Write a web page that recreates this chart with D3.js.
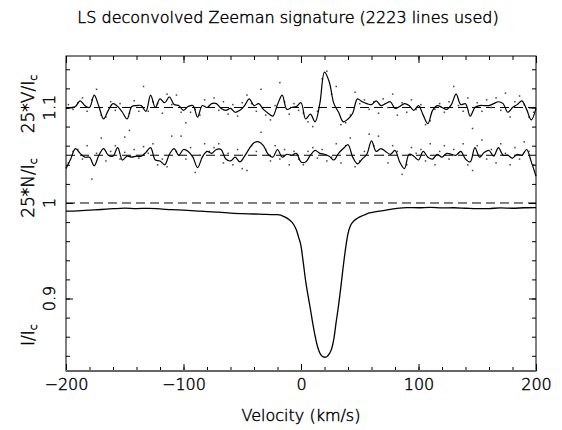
<!DOCTYPE html>
<html><head><meta charset="utf-8">
<script src="https://cdn.jsdelivr.net/npm/d3@7"></script>
<style>
body{margin:0;background:#fff}
svg{display:block}
text{font-family:"DejaVu Sans ExtraLight","DejaVu Sans",sans-serif;font-weight:200;fill:#000;stroke:#000;stroke-width:0.45px}
</style>
</head><body><svg id="c" width="562" height="430"></svg>
<script>
// ---- data ----
const velocity = [
 -200,-196,-192,-188,-184,-180,-176,-172,-168,-164,
 -160,-156,-152,-148,-144,-140,-136,-132,-128,-124,
 -120,-116,-112,-108,-104,-100,-96,-92,-88,-84,
 -80,-76,-72,-68,-64,-60,-56,-52,-48,-44,
 -40,-36,-32,-28,-24,-20,-16,-12,-8,-4,
 0,4,8,12,16,20,24,28,32,36,
 40,44,48,52,56,60,64,68,72,76,
 80,84,88,92,96,100,104,108,112,116,
 120,124,128,132,136,140,144,148,152,156,
 160,164,168,172,176,180,184,188,192,196,
 200];
// 25*V/Ic (plotted around 1.1)
const stokesV = [
 -0.001,0.000,0.001,0.007,0.002,0.000,0.013,0.001,-0.012,-0.003,
 0.004,0.001,-0.005,-0.012,0.001,0.002,0.002,-0.004,0.013,0.000,
 0.009,0.005,0.011,0.003,0.002,-0.003,0.001,0.002,-0.010,0.002,
 0.000,0.004,0.004,-0.001,-0.003,-0.001,-0.005,-0.003,0.002,0.009,
 0.002,0.004,-0.002,-0.006,-0.009,0.003,0.013,-0.002,0.000,0.001,
 0.005,-0.012,-0.007,-0.015,0.004,0.037,0.027,0.004,-0.005,-0.015,
 -0.012,-0.006,0.009,0.006,0.004,0.003,0.007,0.002,0.004,0.006,
 -0.001,0.001,0.004,0.002,-0.003,0.002,-0.008,-0.017,-0.003,0.002,
 0.000,-0.002,0.003,0.014,0.003,0.004,-0.009,0.000,0.002,0.002,
 0.002,0.004,0.006,0.004,-0.005,0.000,0.003,0.007,-0.002,-0.013,
 -0.001];
// 25*N/Ic (plotted around 1.05)
const nullN = [
 -0.014,-0.004,0.007,0.002,-0.002,-0.002,-0.011,0.000,0.007,0.000,
 -0.001,0.008,-0.005,-0.001,-0.002,-0.001,-0.001,0.003,0.008,-0.005,
 -0.006,-0.010,0.001,0.007,0.000,0.006,0.004,-0.002,-0.013,-0.002,
 0.004,0.002,0.006,0.006,-0.004,-0.006,-0.002,-0.007,-0.001,0.007,
 0.013,0.014,0.010,0.001,-0.002,0.006,-0.002,0.001,0.000,0.002,
 -0.007,-0.007,0.000,0.005,0.002,0.001,-0.001,-0.005,0.002,0.007,
 0.011,-0.002,-0.009,-0.004,0.001,0.015,0.004,0.007,0.004,0.001,
 0.005,-0.007,-0.014,0.001,-0.001,-0.005,0.004,-0.002,-0.004,0.001,
 -0.002,0.002,0.001,0.000,0.004,-0.004,-0.007,0.008,-0.002,0.003,
 0.005,-0.001,0.008,0.000,0.000,-0.003,0.001,0.000,0.006,-0.007,
 -0.022];
const dotVelocity = [
 -198,-194,-190,-186,-182,-178,-174,-170,-166,-162,
 -158,-154,-150,-146,-142,-138,-134,-130,-126,-122,
 -118,-114,-110,-106,-102,-98,-94,-90,-86,-82,
 -78,-74,-70,-66,-62,-58,-54,-50,-46,-42,
 -38,-34,-30,-26,-22,-18,-14,-10,-6,-2,
 2,6,10,14,18,22,26,30,34,38,
 42,46,50,54,58,62,66,70,74,78,
 82,86,90,94,98,102,106,110,114,118,
 122,126,130,134,138,142,146,150,154,158,
 162,166,170,174,178,182,186,190,194,198];
const dotV = [
 0.003,-0.002,0.005,0.010,-0.004,0.008,0.019,-0.008,-0.010,0.006,
 -0.003,0.004,-0.031,-0.006,0.007,-0.004,0.022,-0.004,0.006,0.004,
 -0.006,0.014,0.003,0.013,-0.005,-0.016,-0.005,-0.002,-0.008,0.008,
 0.002,0.010,-0.003,0.006,-0.007,0.003,-0.009,0.005,0.013,0.004,
 -0.004,0.019,-0.008,-0.013,0.002,0.026,0.006,-0.007,0.004,-0.003,
 -0.006,-0.015,-0.020,-0.004,0.030,0.038,0.014,0.022,-0.018,-0.016,
 -0.008,0.016,0.004,0.008,-0.002,0.006,-0.006,0.009,0.000,0.014,
 -0.008,0.005,-0.005,0.008,-0.002,0.003,-0.018,-0.014,-0.002,0.004,
 -0.005,0.006,0.022,0.002,-0.004,0.010,-0.022,0.005,-0.004,0.008,
 0.000,0.010,-0.003,0.015,-0.010,0.006,0.012,0.003,-0.010,-0.005];
const dotN = [
 -0.008,0.004,0.006,-0.004,0.010,-0.025,0.002,0.018,-0.006,0.004,
 0.010,-0.004,0.003,0.026,0.006,-0.003,0.009,0.002,0.012,-0.010,
 -0.004,-0.012,0.020,0.004,0.020,-0.004,0.008,-0.018,0.000,0.012,
 0.004,0.008,0.012,-0.008,0.002,-0.010,0.006,-0.014,-0.016,0.010,
 0.004,0.024,0.006,-0.006,0.010,-0.004,0.006,-0.010,0.004,-0.004,
 -0.010,0.004,0.008,-0.003,0.006,-0.006,-0.002,0.012,-0.008,0.010,
 0.018,-0.012,-0.006,0.004,0.022,0.010,0.020,0.000,-0.008,0.010,
 0.004,-0.020,-0.010,0.008,0.002,0.006,-0.006,0.012,-0.010,0.004,
 0.010,-0.004,0.006,0.002,0.012,-0.010,-0.016,0.010,0.016,-0.004,
 0.006,-0.008,0.012,0.002,-0.010,0.008,-0.004,0.014,0.004,-0.010];
const intensityVel = [
 -200,-190,-180,-170,-160,-150,-140,-130,-120,-110,
 -100,-90,-80,-70,-60,-50,-40,-30,-20,-14,
 -10,-6,-4,-2,0,2,4,6,8,10,
 12,14,16,18,20,22,24,26,28,30,
 32,34,36,38,40,42,44,48,52,56,
 60,70,80,90,100,110,120,130,140,150,
 160,170,180,190,200];
const intensity = [
 0.9914,0.9918,0.9925,0.9932,0.9940,0.9946,0.9942,0.9944,0.9938,0.9930,
 0.9925,0.9918,0.9910,0.9905,0.9893,0.9888,0.9885,0.9880,0.9878,0.9855,
 0.9825,0.9770,0.9720,0.9640,0.9550,0.9370,0.9180,0.9030,0.8890,0.8740,
 0.8610,0.8500,0.8430,0.8395,0.8385,0.8390,0.8420,0.8470,0.8580,0.8760,
 0.8930,0.9130,0.9340,0.9530,0.9680,0.9760,0.9800,0.9840,0.9865,0.9887,
 0.9900,0.9920,0.9940,0.9952,0.9950,0.9955,0.9948,0.9950,0.9945,0.9940,
 0.9942,0.9948,0.9945,0.9950,0.9952];
const xMajorTicks = [-200,-100,0,100,200];
const yMajorTicks = [0.9,1,1.1];
const titleText = "LS deconvolved Zeeman signature (2223 lines used)";
const xLabel = "Velocity (km/s)";
const vOffset = 1.1, nOffset = 1.05, iContinuum = 1.0;

// ---- drawing ----
const svg = d3.select("#c");
const L = 66, R = 536, T = 56, B = 371;
const x = d3.scaleLinear().domain([-200, 200]).range([L, R]);
const y = d3.scaleLinear().domain([0.8241, 1.1539]).range([B, T]);

// title
svg.append("text").attr("x", 288).attr("y", 23).attr("text-anchor", "middle")
  .style("font-size", "16px").text(titleText);

// dashed reference lines
[vOffset, nOffset, iContinuum].forEach(v => {
  svg.append("line").attr("x1", L).attr("x2", R).attr("y1", y(v)).attr("y2", y(v))
    .attr("stroke", "#000").attr("stroke-width", 1).attr("stroke-dasharray", "9,5");
});

// dots
const dotsV = dotVelocity.map((v, i) => [v, vOffset + dotV[i]]);
const dotsN = dotVelocity.map((v, i) => [v, nOffset + dotN[i]]);
svg.append("g").selectAll("rect").data(dotsV.concat(dotsN)).join("rect")
  .attr("x", d => x(d[0]) - 0.75).attr("y", d => y(d[1]) - 0.75)
  .attr("width", 1.5).attr("height", 1.5).attr("fill", "#444");

// lines
const line = d3.line().x(d => x(d[0])).y(d => y(d[1])).curve(d3.curveCatmullRom.alpha(0.5));
const lineI = d3.line().x(d => x(d[0])).y(d => y(d[1])).curve(d3.curveMonotoneX);
svg.append("path").datum(velocity.map((v, i) => [v, vOffset + stokesV[i]]))
  .attr("d", line).attr("fill", "none").attr("stroke", "#000").attr("stroke-width", 1.2);
svg.append("path").datum(velocity.map((v, i) => [v, nOffset + nullN[i]]))
  .attr("d", line).attr("fill", "none").attr("stroke", "#000").attr("stroke-width", 1.2);
svg.append("path").datum(intensityVel.map((v, i) => [v, intensity[i]]))
  .attr("d", lineI).attr("fill", "none").attr("stroke", "#000").attr("stroke-width", 1.3);

// axes (ticks pointing inward)
const xMinor = d3.range(-200, 201, 20);
const yMinor = d3.range(0.84, 1.1501, 0.02);
function noDomain(g) { g.select(".domain").remove(); }
svg.append("g").attr("transform", `translate(0,${B})`)
  .call(d3.axisBottom(x).tickValues(xMinor).tickSize(-4).tickFormat("")).call(noDomain);
svg.append("g").attr("transform", `translate(0,${B})`)
  .call(d3.axisBottom(x).tickValues(xMajorTicks).tickSize(-7).tickPadding(8).tickFormat(d3.format("d")))
  .call(noDomain)
  .call(g => g.selectAll("text").style("font-size", "16px").attr("font-family", null));
svg.append("g").attr("transform", `translate(0,${T})`)
  .call(d3.axisTop(x).tickValues(xMinor).tickSize(-4).tickFormat("")).call(noDomain);
svg.append("g").attr("transform", `translate(0,${T})`)
  .call(d3.axisTop(x).tickValues(xMajorTicks).tickSize(-7).tickFormat("")).call(noDomain);
svg.append("g").attr("transform", `translate(${L},0)`)
  .call(d3.axisLeft(y).tickValues(yMinor).tickSize(-4).tickFormat("")).call(noDomain);
svg.append("g").attr("transform", `translate(${L},0)`)
  .call(d3.axisLeft(y).tickValues(yMajorTicks).tickSize(-7).tickFormat("")).call(noDomain);
svg.append("g").attr("transform", `translate(${R},0)`)
  .call(d3.axisRight(y).tickValues(yMinor).tickSize(-4).tickFormat("")).call(noDomain);
svg.append("g").attr("transform", `translate(${R},0)`)
  .call(d3.axisRight(y).tickValues(yMajorTicks).tickSize(-7).tickFormat("")).call(noDomain);
svg.selectAll(".tick line").attr("stroke", "#000");

// frame
svg.append("rect").attr("x", L).attr("y", T).attr("width", R - L).attr("height", B - T)
  .attr("fill", "none").attr("stroke", "#000").attr("stroke-width", 1);
svg.append("line").attr("x1", L).attr("x2", R).attr("y1", B).attr("y2", B)
  .attr("stroke", "#666").attr("stroke-width", 2);

// y tick labels (rotated)
const yFmt = d => d === 1 ? "1" : d3.format(".1f")(d);
yMajorTicks.forEach(v => {
  svg.append("text").attr("transform", `translate(55,${y(v)}) rotate(-90)`)
    .attr("text-anchor", "middle").style("font-size", "16px").text(yFmt(v));
});

// y axis labels (rotated, with subscript c)
function yLabel(main, cy) {
  const t = svg.append("text").attr("transform", `translate(34,${cy}) rotate(-90)`)
    .attr("text-anchor", "middle").style("font-size", "17px");
  t.append("tspan").text(main);
  t.append("tspan").attr("dy", "0.3em").style("font-size", "11px").text("c");
}
yLabel("25*V/I", 104);
yLabel("25*N/I", 188);
yLabel("I/I", 335);

// x label
svg.append("text").attr("x", 301).attr("y", 421).attr("text-anchor", "middle")
  .style("font-size", "16px").text(xLabel);
</script>
</body></html>
